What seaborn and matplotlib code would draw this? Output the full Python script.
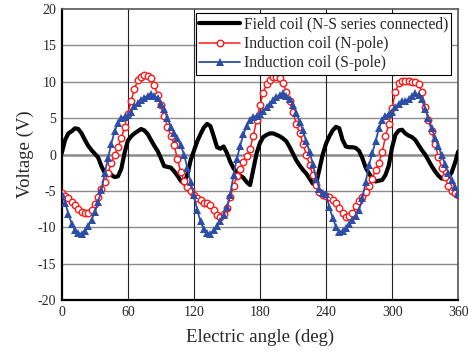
import numpy as np
import pandas as pd
import seaborn as sns
import matplotlib.pyplot as plt

# electric angle, 3 deg steps
angle = list(range(0, 361, 3))

field_coil = [
    0.2, 2.0, 2.9, 3.2, 3.6, 3.5, 2.9, 2.0, 1.2, 0.6,
    0.1, -0.4, -1.6, -2.5, -2.6, -2.8, -3.1, -3.0, -2.0, 0.2,
    1.9, 2.5, 2.9, 3.2, 3.5, 3.3, 2.8, 2.0, 1.2, 0.5,
    -0.5, -1.6, -1.7, -1.8, -2.3, -2.9, -3.6, -4.0, -2.8, -0.8,
    0.5, 1.8, 2.8, 3.7, 4.2, 3.9, 2.5, 1.0, 0.8, 1.1,
    0.2, -1.0, -1.9, -2.5, -2.9, -3.2, -3.8, -4.2, -2.0, 0.2,
    1.6, 2.4, 2.7, 2.9, 2.9, 2.7, 2.5, 2.2, 1.8, 1.0,
    0.1, -0.8, -1.5, -2.1, -2.6, -3.3, -4.0, -4.0, -2.0, 0.0,
    1.5, 2.5, 3.3, 3.8, 3.6, 2.0, 1.1, 1.0, 1.0, 0.9,
    0.5, -0.5, -1.8, -2.6, -3.3, -3.7, -3.6, -3.5, -2.8, -1.5,
    1.0, 2.7, 3.3, 3.4, 2.9, 2.6, 2.4, 2.0, 1.3, 0.6,
    0.0, -0.8, -1.6, -2.3, -2.9, -3.3, -3.3, -3.1, -2.5, -1.2,
    0.4,
]

n_pole = [
    -5.3, -5.7, -6.0, -6.5, -6.9, -7.5, -7.9, -8.1, -8.1, -7.6,
    -6.8, -5.8, -4.8, -3.8, -2.5, -1.2, 0.0, 1.0, 2.2, 3.8,
    5.6, 7.4, 9.0, 10.2, 10.7, 10.9, 10.8, 10.5, 9.5, 8.2,
    6.8, 5.3, 3.8, 2.6, 1.3, -0.6, -2.4, -3.6, -4.5, -5.0,
    -5.6, -6.0, -6.3, -6.6, -6.7, -6.9, -7.6, -8.3, -8.6, -8.2,
    -7.3, -5.9, -4.3, -2.9, -2.0, -1.0, -0.2, 0.8, 2.6, 4.8,
    6.8, 8.5, 9.7, 10.3, 10.6, 10.7, 10.5, 9.8, 8.6, 7.3,
    5.8, 4.2, 2.9, 1.5, 0.0, -1.4, -2.8, -4.2, -5.1, -5.5,
    -5.7, -5.9, -6.2, -6.6, -7.3, -8.1, -8.6, -8.5, -8.0, -7.1,
    -6.4, -5.8, -5.1, -4.3, -3.3, -2.1, -1.1, 0.3, 2.5, 4.2,
    6.4, 8.6, 9.8, 10.1, 10.1, 10.1, 10.0, 10.0, 9.7, 8.6,
    6.5, 4.7, 3.2, 1.4, -0.3, -1.8, -3.1, -4.3, -5.0, -5.3,
    -5.5,
]

s_pole = [
    -5.4, -6.6, -8.2, -9.5, -10.4, -10.8, -10.9, -10.5, -9.8, -9.0,
    -7.9, -6.5, -4.9, -2.6, -0.5, 1.5, 3.2, 4.3, 5.0, 5.2,
    5.4, 5.9, 6.6, 7.1, 7.5, 7.8, 8.1, 8.3, 8.1, 7.7,
    7.0, 6.2, 5.0, 3.8, 3.0, 2.2, 1.3, 0.0, -1.8, -3.8,
    -5.6, -7.6, -9.2, -10.3, -10.8, -10.9, -10.4, -9.8, -9.1, -8.3,
    -7.2, -5.5, -2.8, -0.6, 1.2, 2.8, 3.9, 4.8, 5.2, 5.3,
    5.5, 6.0, 6.5, 7.0, 7.5, 7.9, 8.2, 8.4, 8.1, 7.6,
    6.8, 5.7, 4.5, 3.3, 1.8, 0.4, -1.3, -3.3, -4.8, -5.3,
    -5.4, -7.2, -8.7, -9.9, -10.6, -10.5, -10.1, -9.6, -9.0, -8.4,
    -7.6, -6.0, -3.8, -1.5, 0.2, 1.8, 3.6, 4.7, 5.3, 5.6,
    5.8, 6.5, 7.0, 7.3, 7.4, 7.6, 8.0, 8.4, 8.2, 7.6,
    6.3, 5.0, 3.6, 2.3, 1.1, -0.1, -1.3, -2.5, -3.5, -4.4,
    -5.4,
]

x_ticks = [0, 60, 120, 180, 240, 300, 360]
y_ticks = [-20, -15, -10, -5, 0, 5, 10, 15, 20]

sns.set_style('white')
plt.rcParams['font.family'] = ['Liberation Serif', 'DejaVu Serif']
plt.rcParams['axes.unicode_minus'] = False

df = pd.DataFrame({'angle': angle, 'field': field_coil, 'n': n_pole, 's': s_pole})

fig = plt.figure(figsize=(4.68, 3.56), dpi=100)
ax = fig.add_axes([0.132, 0.157, 0.847, 0.818])

# grid
for yv in y_ticks[1:-1]:
    ax.axhline(yv, color='#8a8a8a', lw=1.0 if yv != 0 else 1.8, zorder=0)
for xv in x_ticks[1:-1]:
    ax.axvline(xv, color='#222222', lw=0.8, zorder=0)

sns.lineplot(data=df, x='angle', y='field', ax=ax, color='black', lw=3.0,
             label='Field coil (N-S series connected)', zorder=3)
sns.lineplot(data=df, x='angle', y='n', ax=ax, color='#ff1a1a', lw=1.1,
             marker='o', markersize=4.7, markerfacecolor='white',
             markeredgecolor='#ff1a1a', markeredgewidth=1.0,
             label='Induction coil (N-pole)', zorder=4)
sns.lineplot(data=df, x='angle', y='s', ax=ax, color='#2d4ea6', lw=1.3,
             marker='^', markersize=5.8, markeredgewidth=0,
             label='Induction coil (S-pole)', zorder=5)

ax.set_xlim(0, 360)
ax.set_ylim(-20, 20)
ax.set_xticks(x_ticks)
ax.set_yticks(y_ticks)
ax.tick_params(length=0, labelsize=10, pad=4)
ax.set_xlabel('Electric angle (deg)', fontsize=13.5, labelpad=7)
ax.set_ylabel('Voltage (V)', fontsize=13.5, labelpad=3)

for side in ['left', 'bottom']:
    ax.spines[side].set_color('black')
    ax.spines[side].set_linewidth(1.6)
for side in ['top', 'right']:
    ax.spines[side].set_color('#555555')
    ax.spines[side].set_linewidth(1.2)

leg = ax.legend(loc='upper right', bbox_to_anchor=(0.99, 0.995), fontsize=11.2,
                frameon=True, fancybox=False, framealpha=1, edgecolor='black',
                borderpad=0.2, labelspacing=0.22, handlelength=2.6,
                handletextpad=0.25, borderaxespad=0.2)
leg.get_frame().set_linewidth(0.8)

fig.savefig('out.png', dpi=100)
